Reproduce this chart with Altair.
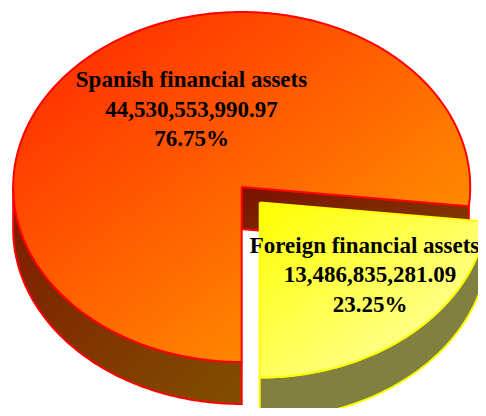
import math
import altair as alt
import pandas as pd

# --- chart values ---
categories = ["Spanish financial assets", "Foreign financial assets"]
amounts = [44530553990.97, 13486835281.09]

# --- picture layout, in pixels of the window ---
CX, CY, RX, RY = 241.7, 187.0, 228.5, 175.0
DEPTH = 42.0
OFF_X, OFF_Y = 18.0, 15.5
W, H = 470, 400

total = sum(amounts)
shares = [a / total for a in amounts]
split = 180.0 - 360.0 * shares[1]   # clockwise degrees from the top where the slices meet


def ux(px):
    return (px - CX) / RX


def uy(py):
    return (CY - py) / RY


def arc(a0, a1, dx=0.0, dy=0.0, n=120):
    pts = []
    for i in range(n + 1):
        a = math.radians(a0 + (a1 - a0) * i / n)
        pts.append((math.sin(a) + dx, math.cos(a) + dy))
    return pts


def poly(points, name):
    pts = list(points) + [points[0]]
    return pd.DataFrame({"u": [p[0] for p in pts], "v": [p[1] for p in pts],
                         "i": range(len(pts)), "shape": name})


d = DEPTH / RY
ox, oy = OFF_X / RX, -OFF_Y / RY
rim = arc(split, split, n=1)[0]

main_top = poly([(0, 0)] + arc(180, 360 + split, n=300), "main_top")
main_outer = poly(arc(180, 270) + arc(270, 180, dy=-d), "main_outer")
main_inner = poly([(0, 0), rim, (rim[0], rim[1] - d), (0, -d)], "main_inner")

slice_top = poly([(ox, oy)] + arc(split, 180, ox, oy), "slice_top")
slice_outer = poly(arc(split, 180, ox, oy) + arc(180, split, ox, oy - d), "slice_outer")


def grad(c0, c1):
    return alt.LinearGradient(gradient="linear",
                              stops=[alt.GradientStop(color=c0, offset=0),
                                     alt.GradientStop(color=c1, offset=1)],
                              x1=0, y1=0, x2=1, y2=1)


x_scale = alt.Scale(domain=[ux(8), ux(8 + W)], range=[0, W], nice=False, zero=False)
y_scale = alt.Scale(domain=[uy(8 + H), uy(8)], range=[H, 0], nice=False, zero=False)


def draw(df, fill, stroke, sw=2.0):
    return alt.Chart(df).mark_line(fill=fill, stroke=stroke, strokeWidth=sw, clip=True,
                                   strokeJoin="miter").encode(
        x=alt.X("u:Q", scale=x_scale, axis=None),
        y=alt.Y("v:Q", scale=y_scale, axis=None),
        order="i:Q",
    )


RED, YEL = "#ff0000", "#ffff00"
layers = [
    draw(main_inner, grad("#7a1000", "#804400"), RED),
    draw(main_outer, grad("#801800", "#804f00"), RED),
    draw(main_top, grad("#ff2200", "#ffa800"), RED),
    draw(slice_outer, "#808040", YEL),
    draw(slice_top, grad("#ffff00", "#ffffb8"), YEL),
]

labels = []
text_pos = [([191.5, 191.5, 191.5], [87, 117, 146]), ([364.5, 370.0, 370.0], [253, 282, 312])]
for name, amount, share, (txs, ys) in zip(categories, amounts, shares, text_pos):
    for line, tx, py in zip([name, f"{amount:,.2f}", f"{share * 100:.2f}%"], txs, ys):
        labels.append({"u": ux(tx), "v": uy(py), "t": line})

text = alt.Chart(pd.DataFrame(labels)).mark_text(
    font="Liberation Serif", fontWeight="bold", fontSize=23, color="#000000",
    align="center", baseline="alphabetic").encode(
    x=alt.X("u:Q", scale=x_scale, axis=None),
    y=alt.Y("v:Q", scale=y_scale, axis=None),
    text="t:N",
)

chart = alt.layer(*layers, text).properties(
    width=W, height=H, padding=0, background="white",
    autosize=alt.AutoSizeParams(type="none"),
).configure_view(stroke=None)

chart.save("out.html", embed_options={"renderer": "svg", "actions": False})
